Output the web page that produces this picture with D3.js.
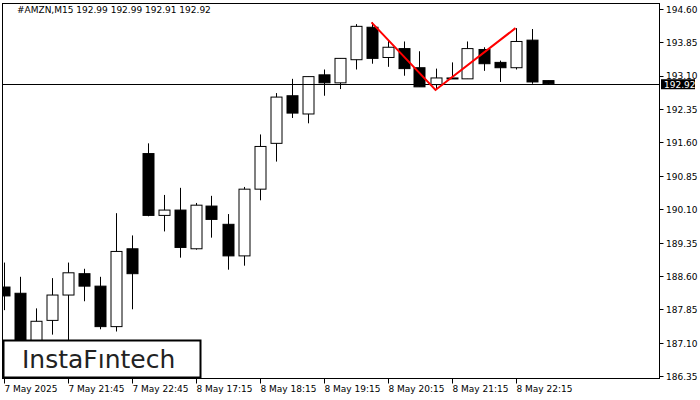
<!DOCTYPE html>
<html><head><meta charset="utf-8">
<script src="https://cdn.jsdelivr.net/npm/d3@7"></script>
<style>body{margin:0;background:#fff}svg{display:block}text{font-family:"DejaVu Sans",sans-serif}</style>
</head><body><svg id="c" width="700" height="400"></svg>
<script>
const opens  =[188.35,188.21,186.51,187.60,188.17,188.65,188.37,187.46,189.21,191.35,189.96,190.08,189.21,190.17,189.76,189.05,190.55,191.58,192.65,192.24,193.12,192.94,193.46,194.19,193.51,193.71,193.28,192.90,193.04,193.03,193.69,193.40,193.28,193.90,192.99];
const highs  =[188.90,188.58,187.87,188.55,188.90,188.76,188.58,190.01,189.51,191.58,190.42,190.58,190.24,190.40,189.99,190.60,191.78,192.71,193.03,193.08,193.24,193.49,194.26,194.30,193.90,193.87,193.65,193.26,193.40,193.87,193.74,193.44,194.17,194.15,192.99];
const lows   =[187.83,186.35,186.40,187.28,187.15,188.03,187.40,187.35,187.85,189.94,189.60,189.01,189.19,189.46,188.74,188.83,190.30,191.17,192.15,192.03,192.65,192.80,193.24,193.37,193.30,193.10,192.85,192.80,193.03,193.03,193.21,192.96,193.24,192.92,192.91];
const closes =[188.15,186.51,187.58,188.17,188.67,188.37,187.46,189.15,188.65,189.96,190.08,189.24,190.19,189.87,189.05,190.55,191.51,192.62,192.26,193.08,192.94,193.49,194.21,193.49,193.74,193.26,192.85,193.05,193.05,193.71,193.37,193.28,193.87,192.96,192.92];
const priceTicks=[194.60,193.85,193.10,192.35,191.60,190.85,190.10,189.35,188.60,187.85,187.10,186.35];
const timeLabels=["7 May 2025","7 May 21:45","7 May 22:45","8 May 17:15","8 May 18:15","8 May 19:15","8 May 20:15","8 May 21:15","8 May 22:15"];
const patternIdx=[23,27,32];
const patternPx=[194.30,192.78,194.17];
const lastPrice=192.92;

const svg=d3.select("#c");
const x=d3.scaleLinear().domain([0,34]).range([3.5,547.5]);
const y=d3.scaleLinear().domain([186.35,194.60]).range([376,9]);
const L=2.5,R=659.5,T=3.5,B=378.5;
svg.append("defs").append("clipPath").attr("id","cp").append("rect").attr("x",L).attr("y",T).attr("width",R-L).attr("height",B-T);
const plot=svg.append("g").attr("clip-path","url(#cp)");
const data=opens.map((o,i)=>({i,o,h:highs[i],l:lows[i],c:closes[i]}));
plot.selectAll("line.w").data(data).join("line").attr("x1",d=>Math.round(x(d.i))+0.5).attr("x2",d=>Math.round(x(d.i))+0.5)
 .attr("y1",d=>y(d.h)).attr("y2",d=>y(d.l)).attr("stroke","#000");
plot.selectAll("rect.b").data(data).join("rect").attr("x",d=>Math.round(x(d.i))-5).attr("width",11)
 .attr("y",d=>y(Math.max(d.o,d.c))).attr("height",d=>Math.max(1,Math.abs(y(d.o)-y(d.c))))
 .attr("fill",d=>d.c<d.o?"#000":"#fff").attr("stroke","#000");
plot.append("line").attr("x1",L).attr("x2",R).attr("y1",Math.round(y(lastPrice))+0.5).attr("y2",Math.round(y(lastPrice))+0.5).attr("stroke","#000");
plot.append("path").attr("d",d3.line().x(d=>x(d)).y((d,k)=>y(patternPx[k]))(patternIdx)).attr("fill","none").attr("stroke","#f00").attr("stroke-width",2);
svg.append("rect").attr("x",L).attr("y",T).attr("width",R-L).attr("height",B-T).attr("fill","none").attr("stroke","#000");
const ya=svg.append("g");
priceTicks.forEach(p=>{const yy=Math.round(y(p))+0.5;
 ya.append("line").attr("x1",R).attr("x2",R+4).attr("y1",yy).attr("y2",yy).attr("stroke","#000");
 ya.append("text").attr("x",666).attr("y",yy+(p===193.10?2:3.5)).attr("font-size",9).text(p.toFixed(2));});
const ly=y(lastPrice);
svg.append("rect").attr("x",661).attr("y",ly-4.5).attr("width",34).attr("height",10).attr("fill","#000");
svg.append("text").attr("x",664).attr("y",ly+4).attr("font-size",9).attr("fill","#fff").text(lastPrice.toFixed(2));
timeLabels.forEach((t,k)=>{const xx=Math.round(x(k*4))+0.5;
 svg.append("line").attr("x1",xx).attr("x2",xx).attr("y1",B).attr("y2",B+5).attr("stroke","#000");
 svg.append("text").attr("x",xx).attr("y",392).attr("font-size",9).text(t);});
svg.append("text").attr("x",17).attr("y",13).attr("font-size",9).text("#AMZN,M15  192.99 192.99 192.91 192.92");
svg.append("rect").attr("x",3.5).attr("y",340.5).attr("width",197).attr("height",37).attr("fill","#fff").attr("stroke","#000").attr("stroke-width",2);
svg.append("text").attr("x",22).attr("y",368).attr("font-size",25).attr("font-family","Lato, sans-serif").attr("fill","#222").text("InstaFıntech");
</script></body></html>
